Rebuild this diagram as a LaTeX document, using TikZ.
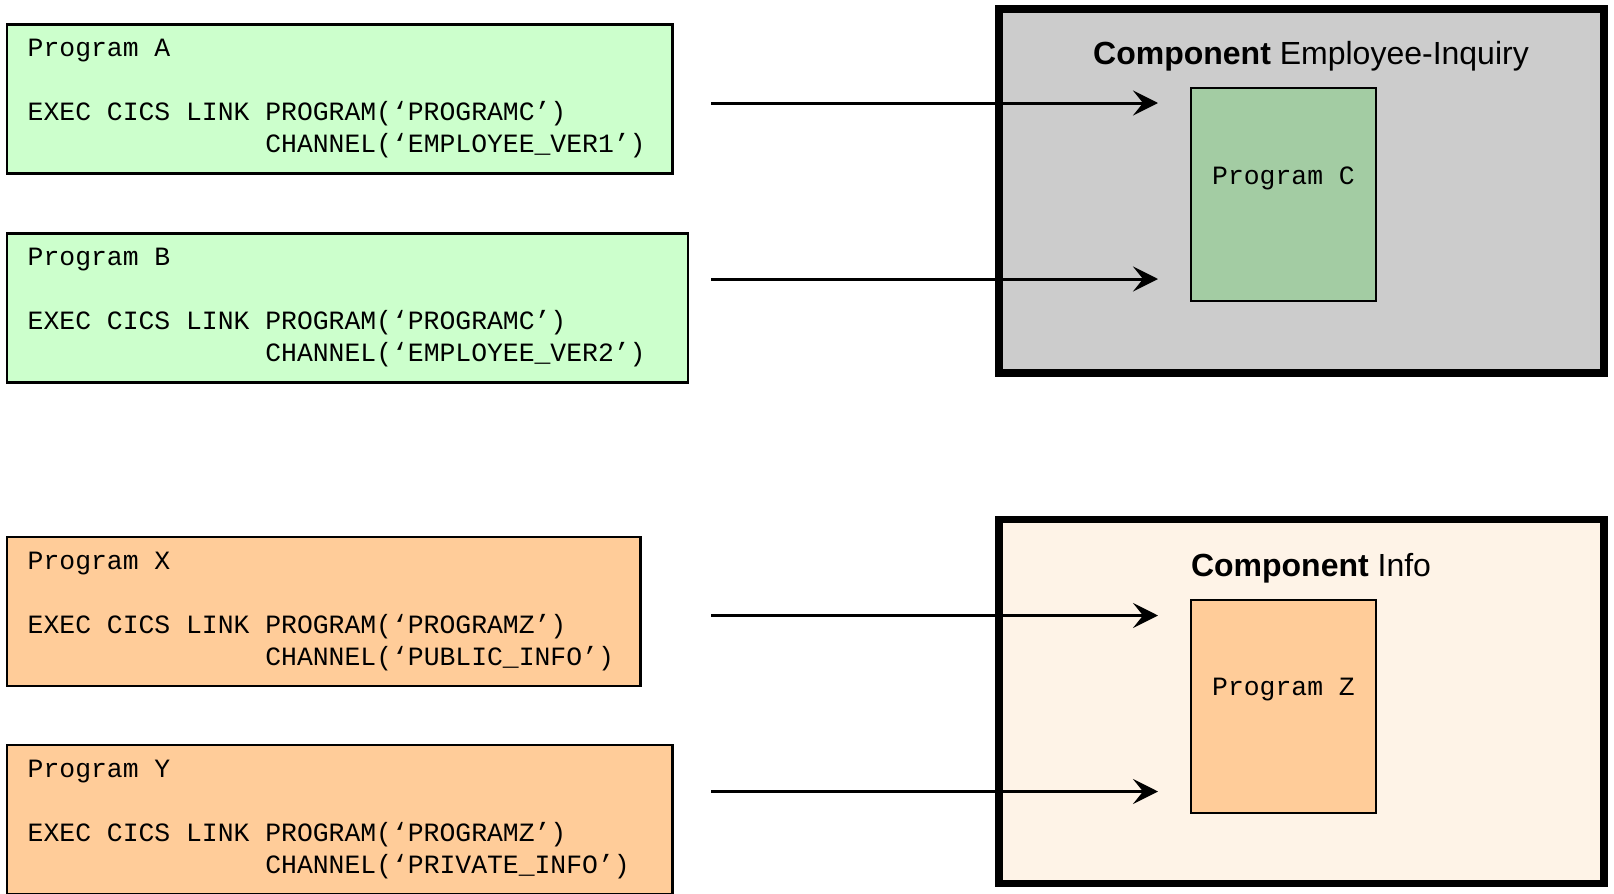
\documentclass[tikz,border=0pt]{standalone}
\usepackage{fontspec}
\setmainfont{Liberation Sans}
\newfontfamily\codefont{Liberation Mono}
\usepackage{tikz}
\usetikzlibrary{arrows.meta, positioning, calc}
\definecolor{CodeGreen}{HTML}{CCFFCC}
\definecolor{CodeOrange}{HTML}{FFCC99}
\definecolor{CompGrey}{HTML}{CCCCCC}
\definecolor{CompCream}{HTML}{FEF3E7}
\definecolor{ProgGreen}{HTML}{A3CCA3}

\begin{document}
\begin{tikzpicture}[x=0.5pt, y=-0.5pt,
    codebox/.style={draw, line width=1.25pt, anchor=north west, align=left,
      inner xsep=10.5pt, minimum height=74.5pt,
      font={\codefont\fontsize{13.2pt}{16pt}\selectfont},
      execute at begin node={\spaceskip=0.6em\xspaceskip=0.6em\relax}},
    component/.style={draw, line width=3.8pt, minimum width=302.7pt, minimum height=182pt},
    progbox/.style={draw, line width=1pt, minimum width=92.5pt, minimum height=106.5pt},
    progname/.style={anchor=center, yshift=8pt,
      font={\codefont\fontsize{13.2pt}{16pt}\selectfont}},
    comptitle/.style={anchor=base, font=\fontsize{16pt}{19pt}\selectfont},
    link/.style={-{Stealth[length=12.5pt, width=12.5pt, inset=5pt]}, line width=1.5pt}]
  \useasboundingbox (0,0) rectangle (1614,894);

  % components on the right
  \node[component, fill=CompGrey] (compEI) at (1301.5,191) {};
  \node[component, fill=CompCream] (compInfo) at (1301.5,701.5) {};
  \node[comptitle] (titleEI) at (1311,64.5) {\textbf{Component} Employee-Inquiry};
  \node[comptitle] (titleInfo) at (1311,576) {\textbf{Component} Info};

  % calling programs
  \node[codebox, fill=CodeGreen, text width=311.75pt] (progA) at (5.5,23.2)
    {Program A\\[16pt]EXEC CICS LINK PROGRAM(‘PROGRAMC’)\\\hphantom{EXEC CICS LINK }CHANNEL(‘EMPLOYEE\_VER1’)};
  \node[codebox, fill=CodeGreen, text width=319.5pt] (progB) at (5.5,232.2)
    {Program B\\[16pt]EXEC CICS LINK PROGRAM(‘PROGRAMC’)\\\hphantom{EXEC CICS LINK }CHANNEL(‘EMPLOYEE\_VER2’)};
  \node[codebox, fill=CodeOrange, text width=295.9pt] (progX) at (5.5,535.8)
    {Program X\\[16pt]EXEC CICS LINK PROGRAM(‘PROGRAMZ’)\\\hphantom{EXEC CICS LINK }CHANNEL(‘PUBLIC\_INFO’)};
  \node[codebox, fill=CodeOrange, text width=311.75pt] (progY) at (5.5,743.8)
    {Program Y\\[16pt]EXEC CICS LINK PROGRAM(‘PROGRAMZ’)\\\hphantom{EXEC CICS LINK }CHANNEL(‘PRIVATE\_INFO’)};

  % called programs
  \node[progbox, fill=ProgGreen, label={[progname]center:Program C}] (progC) at (1283.5,194) {};
  \node[progbox, fill=CodeOrange, label={[progname]center:Program Z}] (progZ) at (1283.5,706) {};

  %\draw[help lines] (0,0) grid[step=50] (1614,894);
  \coordinate (fromA) at (711,103);
  \coordinate (fromB) at (711,279);
  \coordinate (fromX) at (711,615.5);
  \coordinate (fromY) at (711,791.5);
  \draw[link] (fromA) -- (fromA -| 1158,0);
  \draw[link] (fromB) -- (fromB -| 1158,0);
  \draw[link] (fromX) -- (fromX -| 1158,0);
  \draw[link] (fromY) -- (fromY -| 1158,0);
\end{tikzpicture}
\end{document}
